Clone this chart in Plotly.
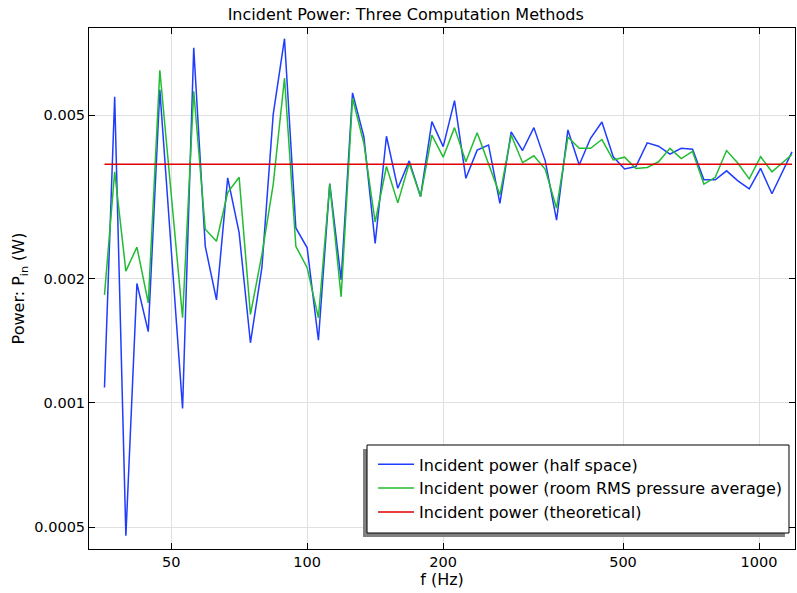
import plotly.graph_objects as go

# Frequencies (Hz)
freq = [35.6, 37.5, 39.7, 42.0, 44.5, 47.2, 53.0, 56.1, 59.5, 63.0, 66.7, 70.7,
        74.9, 79.4, 84.1, 89.1, 94.4, 100.0, 105.9, 112.2, 118.9, 126.0, 133.5,
        141.4, 149.8, 158.7, 168.2, 178.2, 188.8, 200.0, 211.9, 224.5, 237.8,
        252.0, 267.0, 282.8, 299.7, 317.5, 336.4, 356.4, 377.6, 400.0, 423.8,
        449.0, 475.7, 504.0, 533.9, 565.7, 599.3, 635.0, 672.7, 712.7, 755.1,
        800.0, 847.6, 898.0, 951.4, 1008.0, 1068.0, 1183.0]

# Incident power, half space (W)
p_half = [0.00109, 0.00554, 0.000476, 0.00195, 0.00149, 0.00576, 0.00097, 0.00728,
          0.0024, 0.00178, 0.00352, 0.00259, 0.0014, 0.00213, 0.00501, 0.00766,
          0.00266, 0.00238, 0.00142, 0.00341, 0.00199, 0.00566, 0.00443, 0.00244,
          0.00444, 0.00332, 0.00387, 0.00317, 0.00482, 0.00419, 0.00542, 0.00351,
          0.00411, 0.00423, 0.00305, 0.00455, 0.0041, 0.00466, 0.00387, 0.00278,
          0.0046, 0.00378, 0.00439, 0.00481, 0.00396, 0.0037, 0.00375, 0.00428,
          0.0042, 0.00402, 0.00415, 0.00413, 0.00348, 0.00348, 0.00366, 0.00346,
          0.00331, 0.00371, 0.00322, 0.00407]

# Incident power, room RMS pressure average (W)
p_room = [0.00183, 0.00364, 0.00209, 0.00239, 0.00175, 0.00642, 0.00161, 0.00571,
          0.00264, 0.00247, 0.00324, 0.00353, 0.00164, 0.00229, 0.00339, 0.00615,
          0.0024, 0.00213, 0.00161, 0.0034, 0.00181, 0.00549, 0.00427, 0.00275,
          0.00375, 0.00306, 0.00382, 0.00317, 0.00447, 0.00395, 0.00466, 0.00385,
          0.00453, 0.00382, 0.0032, 0.00447, 0.00383, 0.00398, 0.00369, 0.00297,
          0.00442, 0.00415, 0.00415, 0.00436, 0.00389, 0.00395, 0.00371, 0.00373,
          0.00385, 0.00415, 0.00392, 0.00408, 0.0034, 0.00353, 0.0041, 0.00382,
          0.0035, 0.00396, 0.00364, 0.00401]

# Theoretical incident power (W)
p_theory = 0.0038

x_ticks = [50, 100, 200, 500, 1000]
x_tick_text = ["50", "100", "200", "500", "1000"]
y_ticks = [0.0005, 0.001, 0.002, 0.005]
y_tick_text = ["0.0005", "0.001", "0.002", "0.005"]

FONT = "DejaVu Sans"

fig = go.Figure()
fig.add_trace(go.Scatter(x=freq, y=p_half, mode="lines", name="Incident power (half space)",
                         line=dict(color="#1f3cff", width=1.5), legendgroup="a"))
fig.add_trace(go.Scatter(x=freq, y=p_room, mode="lines",
                         name="Incident power (room RMS pressure average)",
                         line=dict(color="#22bb33", width=1.5), legendgroup="b"))
fig.add_trace(go.Scatter(x=[freq[0], freq[-1]], y=[p_theory, p_theory], mode="lines",
                         name="Incident power (theoretical)",
                         line=dict(color="#e00000", width=1.5), legendgroup="c"))

axis_common = dict(showline=True, linecolor="black", linewidth=1, mirror="ticks",
                   ticks="inside", ticklen=6, tickcolor="black",
                   showgrid=True, gridcolor="#e0e0e0", gridwidth=1, zeroline=False,
                   tickfont=dict(family=FONT, size=14.5, color="black"))

fig.update_xaxes(type="log", range=[1.5172, 3.0796], tickvals=x_ticks, ticktext=x_tick_text,
                 title=dict(text="f (Hz)", font=dict(family=FONT, size=16, color="black"),
                            standoff=3), **axis_common)
fig.update_yaxes(type="log", range=[-3.3544, -2.0898], tickvals=y_ticks, ticktext=y_tick_text,
                 title=dict(text="Power: P<sub>in</sub> (W)",
                            font=dict(family=FONT, size=16, color="black"), standoff=5),
                 **axis_common)

# legend shadow and frame
fig.add_shape(type="rect", xref="paper", yref="paper", x0=0.3881, x1=0.9858, y0=0.0230, y1=0.1919,
              fillcolor="#808080", line=dict(width=0), layer="above")
fig.add_shape(type="rect", xref="paper", yref="paper", x0=0.3938, x1=0.9915, y0=0.0307, y1=0.1996,
              fillcolor="white", line=dict(color="black", width=1), layer="above")

fig.update_layout(
    width=797, height=593,
    margin=dict(l=89, r=2, t=28, b=44),
    paper_bgcolor="white", plot_bgcolor="white",
    font=dict(family=FONT, size=16, color="black"),
    title=dict(text="Incident Power: Three Computation Methods", x=0.509, xanchor="center",
               y=0.976, yanchor="middle", font=dict(family=FONT, size=16, color="black")),
    legend=dict(x=0.4023, xanchor="left", y=0.1950, yanchor="top",
                bgcolor="rgba(0,0,0,0)", borderwidth=0,
                font=dict(family=FONT, size=16, color="black"),
                tracegroupgap=6.5, traceorder="normal", itemwidth=36),
    showlegend=True,
)

fig.write_html("out.html", config={"displayModeBar": False},
               post_script="document.body.style.margin='0';")
